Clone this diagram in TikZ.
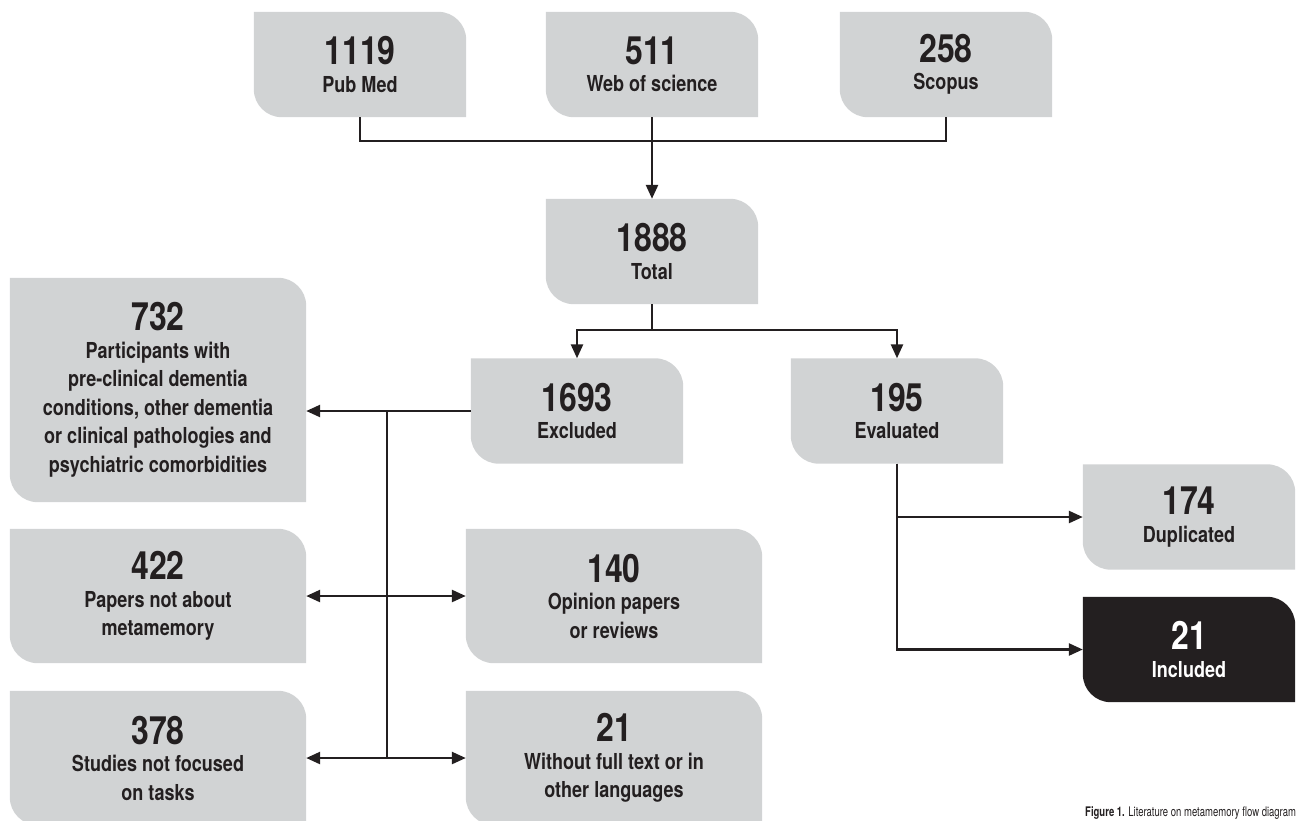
\documentclass[tikz,border=0pt]{standalone}
\usepackage{fontspec}
\setmainfont{TeX Gyre Heros}
\newfontfamily\condf{TeX Gyre Heros}[FakeStretch=0.82]
\newfontfamily\capf{TeX Gyre Heros}[FakeStretch=0.72]
\usetikzlibrary{arrows.meta,backgrounds}
\definecolor{boxgray}{HTML}{D1D3D4}
\definecolor{ink}{HTML}{231F20}
\tikzset{
 box/.style={minimum width=212pt, minimum height=105pt, inner sep=0pt, align=center, text=ink,
   font=\condf\bfseries\fontsize{22}{28.5}\selectfont},
 widebox/.style={box, minimum width=296pt, minimum height=134pt},
 conn/.style={draw=ink, line width=2.5pt},
 arr/.style={conn, -{Triangle[length=14pt,width=12pt]}},
 darr/.style={conn, {Triangle[length=14pt,width=12pt]}-{Triangle[length=14pt,width=12pt]}},
}
\newcommand\numl[1]{{\fontsize{39}{39}\selectfont #1}\\[-1pt]}
\begin{document}
\begin{tikzpicture}[x=1pt,y=-1pt]
\useasboundingbox (0,0) rectangle (1301,820);
% top row
\node[box] (pubmed) at (360,64.5) {\numl{1119}Pub Med};
\node[box] (wos) at (652,64.5) {\numl{511}Web of science};
\node[box] (scopus) at (946,64.5) {\numl{258}Scopus};
\node[box] (total) at (652,251.5) {\numl{1888}Total};
\node[box] (excl) at (577,411) {\numl{1693}Excluded};
\node[box] (eval) at (897,411) {\numl{195}Evaluated};
\node[box] (dup) at (1189,517) {\numl{174}Duplicated};
\node[box, text=white] (incl) at (1189,649.5) {\numl{21}Included};
\node[widebox, minimum height=224pt] (c732) at (158,390) {\numl{732}Participants with\\pre-clinical dementia\\conditions, other dementia\\or clinical pathologies and\\psychiatric comorbidities};
\node[widebox] (c422) at (158,596) {\numl{422}Papers not about\\metamemory};
\node[widebox] (c378) at (158,758) {\numl{378}Studies not focused\\on tasks};
\node[widebox] (c140) at (614,596) {\numl{140}Opinion papers\\or reviews};
\node[widebox] (c21) at (614,758) {\numl{21}Without full text or in\\other languages};
% box backgrounds
\begin{scope}[on background layer]
\foreach \n/\c in {pubmed/boxgray,wos/boxgray,scopus/boxgray,total/boxgray,excl/boxgray,eval/boxgray,dup/boxgray,incl/ink,c732/boxgray,c422/boxgray,c378/boxgray,c140/boxgray,c21/boxgray}
 \fill[\c] (\n.north west) -- ([xshift=-28pt]\n.north east) arc[start angle=90,end angle=0,radius=28pt]
   -- (\n.south east) -- ([xshift=28pt]\n.south west) arc[start angle=270,end angle=180,radius=28pt] -- cycle;
\end{scope}
% connectors
\coordinate (j1) at (652,141);
\coordinate (j2) at (652,330);
\coordinate (v) at (387,411);
\coordinate (vb) at (387,758);
\draw[conn] (pubmed.south) |- (j1) -| (scopus.south);
\draw[arr] (wos.south) -- (total.north);
\draw[conn] (total.south) -- (j2);
\draw[arr] (j2) -| (excl.north);
\draw[arr] (j2) -| (eval.north);
\draw[arr] (excl.west) -- (excl.west -| c732.east);
\draw[conn] (v) -- (vb);
\draw[darr] (c422.east) -- (c140.west);
\draw[darr] (c378.east) -- (c21.west);
\draw[arr] (eval.south) |- (dup.west);
\draw[arr] (eval.south) |- (incl.west);
% caption
\node[anchor=base west, inner sep=0pt, text=ink, font=\capf\fontsize{13.2}{16}\selectfont] (cap) at (1085,816) {\textbf{Figure 1.} Literature on metamemory flow diagram};
\end{tikzpicture}
\end{document}
